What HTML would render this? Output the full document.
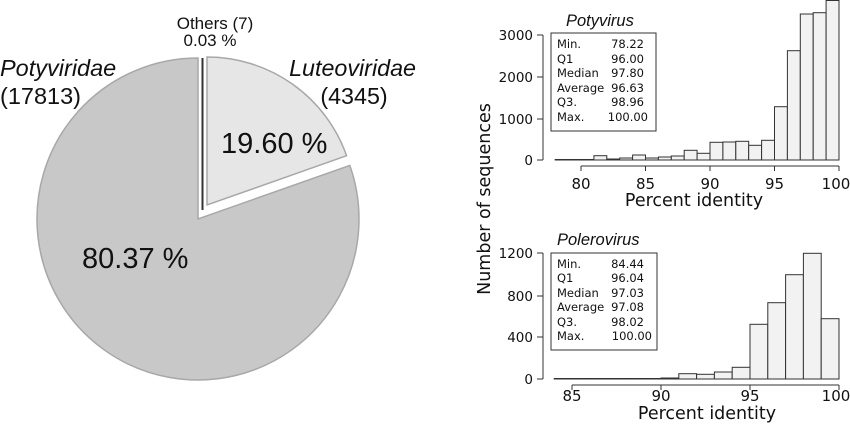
<!DOCTYPE html>
<html><head><meta charset="utf-8"><style>
html,body{margin:0;padding:0;background:#fff;}
svg{display:block;font-family:"DejaVu Sans","Liberation Sans",sans-serif;}
.a{font-family:"Liberation Sans",sans-serif;}
</style></head><body>
<svg id="s" width="850" height="424" viewBox="0 0 850 424" xmlns="http://www.w3.org/2000/svg">
<!-- pie -->
<path d="M198,219 L198,58 A161,161 0 1 0 349.8,165.4 Z" fill="#c8c8c8" stroke="#a8a8a8" stroke-width="1.5"/>
<path d="M207,205 L207,57 A148,148 0 0 1 346.6,155.7 Z" fill="#e6e6e6" stroke="#a8a8a8" stroke-width="1.5"/>
<line x1="202.5" y1="58" x2="202.5" y2="210" stroke="#333" stroke-width="2"/>
<g class="a" fill="#111">
<text x="215" y="29" font-size="17" text-anchor="middle">Others (7)</text>
<text x="210" y="46" font-size="17" text-anchor="middle">0.03 %</text>
<text x="0" y="76" font-size="23.5" font-style="italic">Potyviridae</text>
<text x="0" y="104" font-size="23.5">(17813)</text>
<text x="416" y="76" font-size="23.3" font-style="italic" text-anchor="end">Luteoviridae</text>
<text x="354" y="104" font-size="23.3" text-anchor="middle">(4345)</text>
<text x="221" y="153" font-size="29">19.60 %</text>
<text x="82" y="268" font-size="29">80.37 %</text>
</g>
<!-- histograms -->
<g id="h" fill="#f2f2f2" stroke="#333" stroke-width="1"></g>
<g stroke="#333" stroke-width="1" fill="none">
<line x1="543" y1="35" x2="543" y2="160"/>
<line x1="537" y1="35" x2="543" y2="35"/><line x1="537" y1="77" x2="543" y2="77"/><line x1="537" y1="119" x2="543" y2="119"/><line x1="537" y1="160" x2="543" y2="160"/>
<line x1="581" y1="166" x2="839" y2="166"/>
<line x1="581" y1="166" x2="581" y2="171"/><line x1="645.5" y1="166" x2="645.5" y2="171"/><line x1="710" y1="166" x2="710" y2="171"/><line x1="774.5" y1="166" x2="774.5" y2="171"/><line x1="839" y1="166" x2="839" y2="171"/>
<rect x="551" y="33" width="105" height="98"/>
<line x1="543" y1="253" x2="543" y2="379"/>
<line x1="537" y1="253" x2="543" y2="253"/><line x1="537" y1="296" x2="543" y2="296"/><line x1="537" y1="337" x2="543" y2="337"/><line x1="537" y1="379" x2="543" y2="379"/>
<line x1="572" y1="385" x2="839" y2="385"/>
<line x1="572" y1="385" x2="572" y2="390"/><line x1="661" y1="385" x2="661" y2="390"/><line x1="750" y1="385" x2="750" y2="390"/><line x1="839" y1="385" x2="839" y2="390"/>
<rect x="551" y="253" width="106" height="97"/>
</g>
<g fill="#111" font-size="13.5">
<text x="533" y="40" text-anchor="end">3000</text>
<text x="533" y="82" text-anchor="end">2000</text>
<text x="533" y="124" text-anchor="end">1000</text>
<text x="533" y="165" text-anchor="end">0</text>
<text x="533" y="258" text-anchor="end">1200</text>
<text x="533" y="301" text-anchor="end">800</text>
<text x="533" y="342" text-anchor="end">400</text>
<text x="533" y="384" text-anchor="end">0</text>
</g>
<g fill="#111" font-size="15" text-anchor="middle">
<text x="581" y="189">80</text><text x="645.5" y="189">85</text><text x="710" y="189">90</text><text x="774.5" y="189">95</text><text x="836" y="189">100</text>
<text x="572" y="401">85</text><text x="661" y="401">90</text><text x="750" y="401">95</text><text x="836" y="401">100</text>
</g>
<g fill="#111" font-size="17.5" text-anchor="middle">
<text x="694" y="206">Percent identity</text>
<text x="707" y="419">Percent identity</text>
<text transform="translate(490,199) rotate(-90)">Number of sequences</text>
</g>
<g class="a" fill="#111" font-size="16.5" font-style="italic">
<text x="566" y="26">Potyvirus</text>
<text x="557" y="245">Polerovirus</text>
</g>
<g fill="#111" font-size="11.5">
<text x="557" y="48">Min.</text><text x="644" y="48" text-anchor="end">78.22</text>
<text x="557" y="63">Q1</text><text x="644" y="63" text-anchor="end">96.00</text>
<text x="557" y="77">Median</text><text x="644" y="77" text-anchor="end">97.80</text>
<text x="557" y="92">Average</text><text x="644" y="92" text-anchor="end">96.63</text>
<text x="557" y="106">Q3.</text><text x="644" y="106" text-anchor="end">98.96</text>
<text x="557" y="121">Max.</text><text x="648" y="121" text-anchor="end">100.00</text>
<text x="557" y="268">Min.</text><text x="644" y="268" text-anchor="end">84.44</text>
<text x="557" y="282">Q1</text><text x="644" y="282" text-anchor="end">96.04</text>
<text x="557" y="297">Median</text><text x="644" y="297" text-anchor="end">97.03</text>
<text x="557" y="311">Average</text><text x="644" y="311" text-anchor="end">97.08</text>
<text x="557" y="326">Q3.</text><text x="644" y="326" text-anchor="end">98.02</text>
<text x="557" y="340">Max.</text><text x="652" y="340" text-anchor="end">100.00</text>
</g>
</svg>
<script>
var g=document.getElementById('h'),ns='http://www.w3.org/2000/svg';
function bars(x0,w,base,tops){tops.forEach(function(t,i){var r=document.createElementNS(ns,'rect');r.setAttribute('x',x0+i*w);r.setAttribute('y',t);r.setAttribute('width',w);r.setAttribute('height',Math.max(0,base-t));g.appendChild(r);});}
bars(555.2,12.9,160,[159.5,159.5,159.5,155.7,159,158,155,158,157,156,150.3,153.3,142.3,142,141.3,145.3,140.3,106.7,50.7,14,12.7,0.5]);
bars(554.2,17.8,379,[378.5,378.5,378.5,378.5,378.5,378.5,378,373.7,374.3,372,367.3,324.3,302.7,274.7,253.3,318.7]);
</script>
</body></html>
